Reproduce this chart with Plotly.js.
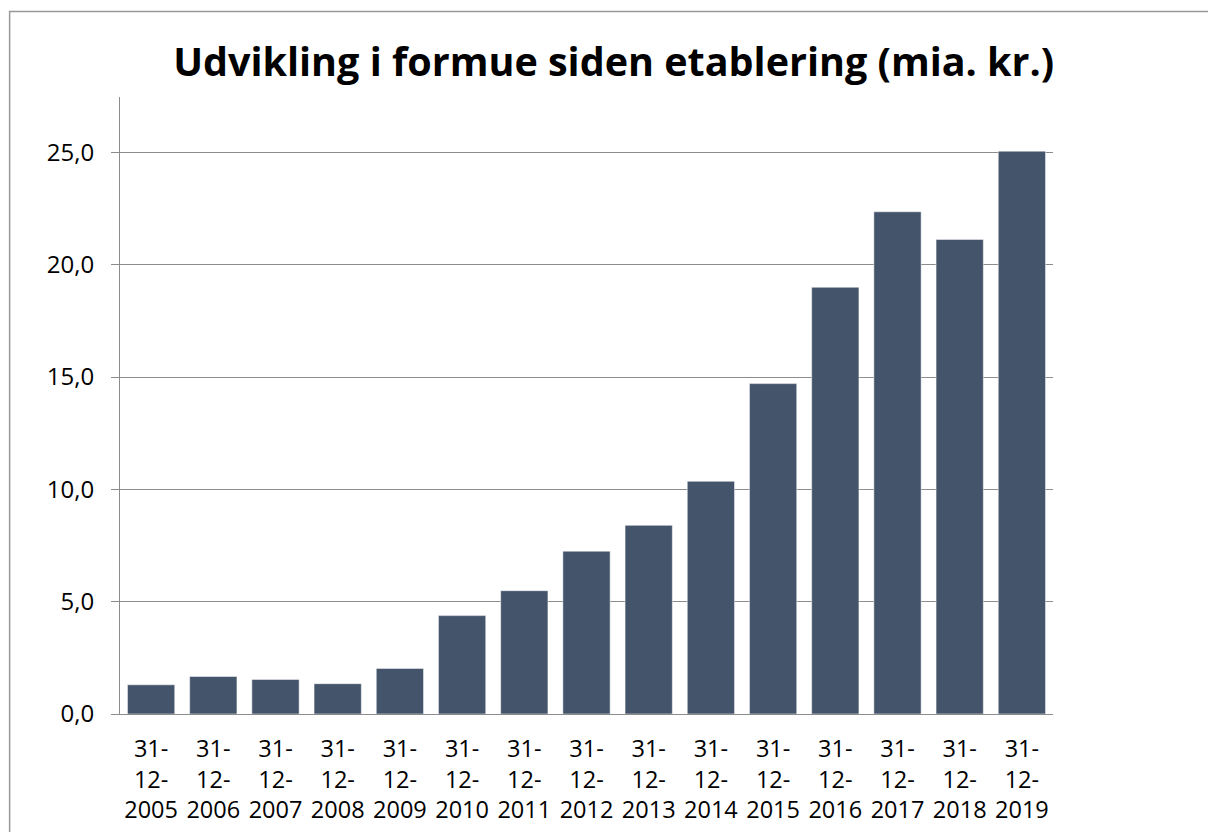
<!DOCTYPE html>
<html>
<head>
<meta charset="utf-8">
<script src="https://cdn.plot.ly/plotly-3.0.1.min.js"></script>
<style>
html,body{margin:0;padding:0;background:#fff;}
#chart{width:1208px;height:832px;}
</style>
</head>
<body>
<div id="chart"></div>
<script>
// Data
var dates = ["31-12-2005","31-12-2006","31-12-2007","31-12-2008","31-12-2009","31-12-2010","31-12-2011","31-12-2012","31-12-2013","31-12-2014","31-12-2015","31-12-2016","31-12-2017","31-12-2018","31-12-2019"];
var values = [1.30, 1.67, 1.54, 1.35, 2.03, 4.38, 5.49, 7.25, 8.40, 10.36, 14.71, 19.00, 22.36, 21.13, 25.06];
var yTicks = [0, 5, 10, 15, 20, 25];
var titleText = "Udvikling i formue siden etablering (mia. kr.)";

var tickText = dates.map(function(d){
  var p = d.split("-");
  return p[0] + "-<br>" + p[1] + "-<br>" + p[2];
});

var FONT = "Open Sans, Noto Sans, sans-serif";

var trace = {
  type: "bar",
  x: dates,
  y: values,
  marker: {color: "#44546A", line: {color: "rgba(255,255,255,0.5)", width: 1}},
  hoverinfo: "x+y"
};

var layout = {
  width: 1208,
  height: 832,
  separators: ",.",
  paper_bgcolor: "#fff",
  plot_bgcolor: "#fff",
  margin: {l: 119.5, r: 154.5, t: 96.7, b: 118.4, pad: 0},
  bargap: 0.24,
  showlegend: false,
  title: {
    text: "<b>" + titleText + "</b>",
    font: {family: FONT, size: 39.5, color: "#000"},
    x: 0.508, xanchor: "center",
    y: 0.925, yanchor: "middle"
  },
  font: {family: FONT, color: "#000"},
  xaxis: {
    type: "category",
    tickvals: dates,
    ticktext: tickText,
    tickfont: {family: FONT, size: 23.5, color: "#000"},
    showgrid: false,
    showline: true,
    linecolor: "#8c8c8c",
    linewidth: 1,
    ticks: "",
    tickangle: 0,
    ticklabelstandoff: 14,
    zeroline: false,
    fixedrange: true
  },
  yaxis: {
    range: [0, 27.47],
    tickvals: yTicks,
    tickformat: ".1f",
    tickfont: {family: FONT, size: 24, color: "#000"},
    showgrid: true,
    gridcolor: "#8c8c8c",
    gridwidth: 1,
    showline: true,
    linecolor: "#8c8c8c",
    linewidth: 1,
    ticks: "outside",
    ticklen: 8,
    tickcolor: "#8c8c8c",
    ticklabelstandoff: 12,
    zeroline: false,
    fixedrange: true
  },
  shapes: [{
    type: "rect", xref: "paper", yref: "paper",
    x0: -0.1183, x1: 1.3, y0: -0.3, y1: 1.1387,
    line: {color: "#999999", width: 1.5},
    fillcolor: "rgba(0,0,0,0)",
    layer: "below"
  }]
};

Plotly.newPlot("chart", [trace], layout, {staticPlot: true, displayModeBar: false});
</script>
</body>
</html>
